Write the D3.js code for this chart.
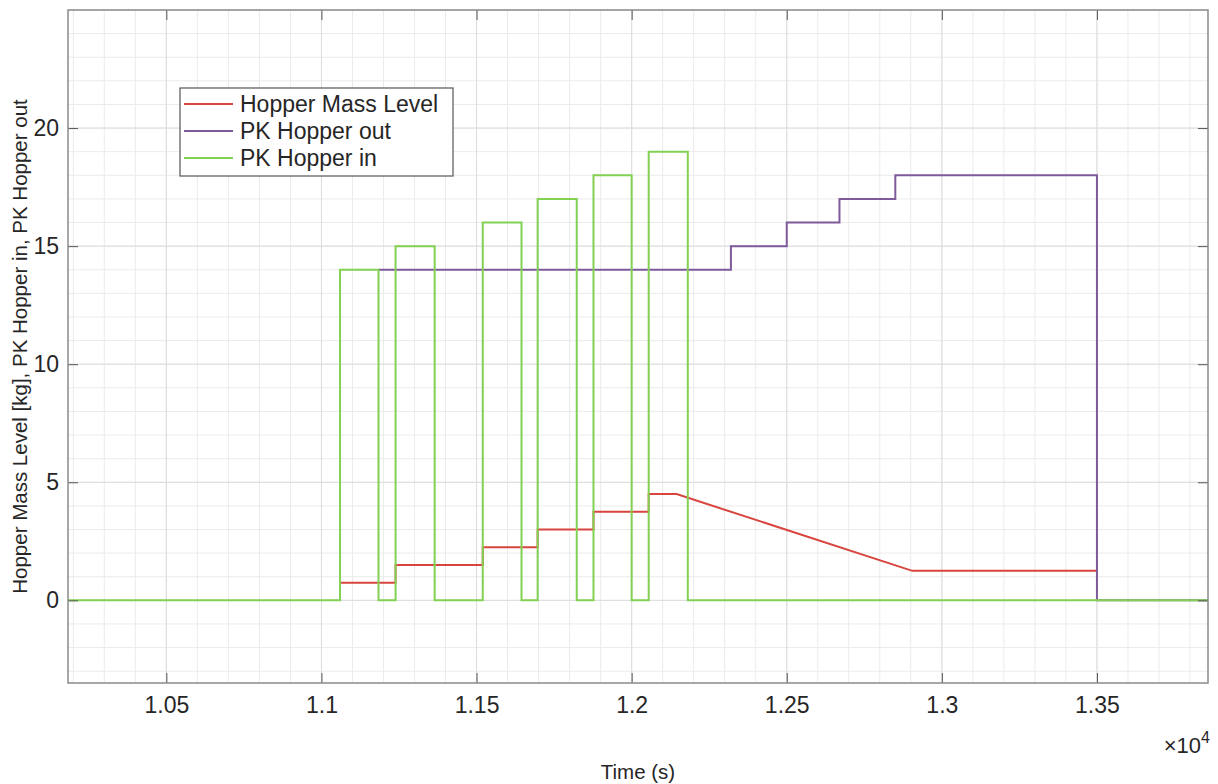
<!DOCTYPE html>
<html>
<head>
<meta charset="utf-8">
<script src="https://cdn.jsdelivr.net/npm/d3@7"></script>
<style>
  html, body { margin: 0; padding: 0; background: #ffffff; }
  svg { display: block; }
  text { font-family: "Liberation Sans", Arial, Helvetica, sans-serif; }
</style>
</head>
<body>
<svg id="chart" width="1218" height="784"></svg>
<script>
// ---- data ----
const seriesNames = ["Hopper Mass Level", "PK Hopper out", "PK Hopper in"];

// PK Hopper in (step after)
const inTime  = [10183, 11060, 11184, 11239, 11365, 11520, 11645, 11697, 11823, 11877, 12000, 12055, 12181, 13858];
const inValue = [0, 14, 0, 15, 0, 16, 0, 17, 0, 18, 0, 19, 0, 0];

// PK Hopper out (step after)
const outTime  = [11184, 12320, 12500, 12670, 12850, 13500, 13858];
const outValue = [14, 15, 16, 17, 18, 0, 0];

// Hopper Mass Level (explicit vertices)
const massTime  = [11060, 11239, 11239, 11520, 11520, 11697, 11697, 11877, 11877, 12055, 12055, 12145, 12905, 13500];
const massValue = [0.75, 0.75, 1.5, 1.5, 2.25, 2.25, 3, 3, 3.75, 3.75, 4.5, 4.5, 1.25, 1.25];

const xTicks = [10500, 11000, 11500, 12000, 12500, 13000, 13500];
const xTickLabels = ["1.05", "1.1", "1.15", "1.2", "1.25", "1.3", "1.35"];
const yTicks = [0, 5, 10, 15, 20];
const xDomain = [10183, 13858];
const yDomain = [-3.5, 25];

// ---- layout ----
const svg = d3.select("#chart");
const L = 68, R = 1208, T = 10, B = 683;
const x = d3.scaleLinear().domain(xDomain).range([L, R]);
const y = d3.scaleLinear().domain(yDomain).range([B, T]);

const colors = ["#d8453e", "#7e5a9b", "#82d152"];

// minor grid
const xMinor = d3.range(10200, 13858, 100);
const yMinor = d3.range(-3, 25.01, 1);
const grid = svg.append("g");
grid.selectAll(".xm").data(xMinor).join("line")
  .attr("x1", d => x(d)).attr("x2", d => x(d)).attr("y1", T).attr("y2", B)
  .attr("stroke", "#ebebeb").attr("stroke-width", 1);
grid.selectAll(".ym").data(yMinor).join("line")
  .attr("x1", L).attr("x2", R).attr("y1", d => y(d)).attr("y2", d => y(d))
  .attr("stroke", "#ebebeb").attr("stroke-width", 1);
// major grid
grid.selectAll(".xM").data(xTicks).join("line")
  .attr("x1", d => x(d)).attr("x2", d => x(d)).attr("y1", T).attr("y2", B)
  .attr("stroke", "#dcdcdc").attr("stroke-width", 1);
grid.selectAll(".yM").data(yTicks).join("line")
  .attr("x1", L).attr("x2", R).attr("y1", d => y(d)).attr("y2", d => y(d))
  .attr("stroke", "#dcdcdc").attr("stroke-width", 1);

// ---- lines ----
const stepLine = d3.line().x(d => x(d[0])).y(d => y(d[1])).curve(d3.curveStepAfter);
const plainLine = d3.line().x(d => x(d[0])).y(d => y(d[1]));

const plot = svg.append("g");
plot.append("path").datum(massTime.map((t, i) => [t, massValue[i]]))
  .attr("d", plainLine).attr("fill", "none").attr("stroke", colors[0]).attr("stroke-width", 2);
plot.append("path").datum(outTime.map((t, i) => [t, outValue[i]]))
  .attr("d", stepLine).attr("fill", "none").attr("stroke", colors[1]).attr("stroke-width", 2);
plot.append("path").datum(inTime.map((t, i) => [t, inValue[i]]))
  .attr("d", stepLine).attr("fill", "none").attr("stroke", colors[2]).attr("stroke-width", 2);

// ---- axes (MATLAB style, box on, inward ticks) ----
const axColor = "#8a8a8a";
const tickLen = 10;
const xAxisB = d3.axisBottom(x).tickValues(xTicks).tickFormat((d, i) => xTickLabels[i]).tickSizeInner(-tickLen).tickSizeOuter(0).tickPadding(14);
const xAxisT = d3.axisTop(x).tickValues(xTicks).tickFormat("").tickSizeInner(-tickLen).tickSizeOuter(0);
const yAxisL = d3.axisLeft(y).tickValues(yTicks).tickSizeInner(-tickLen).tickSizeOuter(0).tickPadding(9);
const yAxisR = d3.axisRight(y).tickValues(yTicks).tickFormat("").tickSizeInner(-tickLen).tickSizeOuter(0);

function styleAxis(g) {
  g.select(".domain").remove();
  g.selectAll(".tick line").attr("stroke", "#555").attr("stroke-width", 1);
  g.selectAll(".tick text").attr("fill", "#262626").style("font-size", "23px")
   .style("font-family", "'Liberation Sans', Arial, sans-serif");
}
svg.append("g").attr("transform", `translate(0,${B})`).call(xAxisB).call(styleAxis);
svg.append("g").attr("transform", `translate(0,${T})`).call(xAxisT).call(styleAxis);
svg.append("g").attr("transform", `translate(${L},0)`).call(yAxisL).call(styleAxis);
svg.append("g").attr("transform", `translate(${R},0)`).call(yAxisR).call(styleAxis);

// box
svg.append("rect").attr("x", L).attr("y", T).attr("width", R - L).attr("height", B - T)
  .attr("fill", "none").attr("stroke", axColor).attr("stroke-width", 1.5);

// exponent label
const ex = svg.append("text").attr("x", R + 2).attr("y", 753).attr("text-anchor", "end")
  .attr("fill", "#262626").style("font-size", "22px");
ex.append("tspan").text("\u00d710");
ex.append("tspan").attr("dy", -10).style("font-size", "16px").text("4");

// axis labels
svg.append("text").attr("x", (L + R) / 2).attr("y", 779).attr("text-anchor", "middle")
  .attr("fill", "#262626").style("font-size", "20.5px").text("Time (s)");
svg.append("text").attr("transform", `translate(27,${(T + B) / 2}) rotate(-90)`)
  .attr("text-anchor", "middle").attr("fill", "#262626").style("font-size", "20.5px")
  .text("Hopper Mass Level [kg], PK Hopper in, PK Hopper out");

// ---- legend ----
const lg = svg.append("g");
lg.append("rect").attr("x", 180).attr("y", 88).attr("width", 273).attr("height", 88)
  .attr("fill", "#ffffff").attr("stroke", "#555").attr("stroke-width", 1.2);
const rowsY = [104, 131, 158];
seriesNames.forEach((name, i) => {
  lg.append("line").attr("x1", 184).attr("x2", 233).attr("y1", rowsY[i]).attr("y2", rowsY[i])
    .attr("stroke", colors[i]).attr("stroke-width", 2);
  lg.append("text").attr("x", 240).attr("y", rowsY[i]).attr("dy", "0.36em")
    .attr("fill", "#262626").style("font-size", "23px").text(name);
});
</script>
</body>
</html>
